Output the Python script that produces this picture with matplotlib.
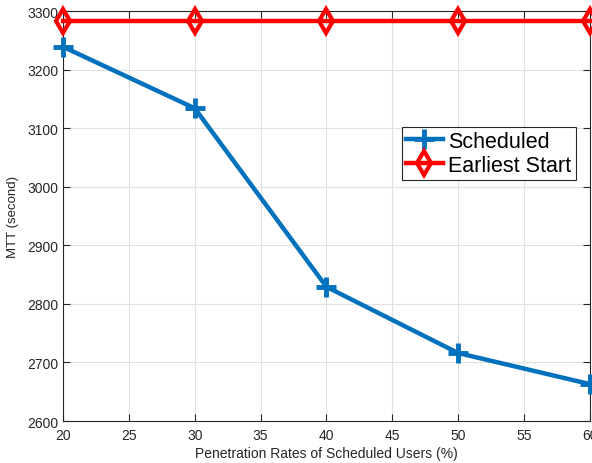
import matplotlib
matplotlib.use("Agg")
import matplotlib.pyplot as plt

plt.rcParams['font.family'] = ['Liberation Sans', 'DejaVu Sans']

rates = [20, 30, 40, 50, 60]
scheduled = [3239, 3134, 2829, 2716, 2663]
earliest = [3283, 3283, 3283, 3283, 3283]

fig = plt.figure(figsize=(5.92, 4.64), dpi=100)
ax = fig.add_axes([0.1064, 0.0905, 0.8902, 0.8835])

ax.plot(rates, scheduled, color='#0072BD', lw=3.2, marker='+', ms=14, mew=3.5,
        label='Scheduled', clip_on=False, zorder=3)
ax.plot(rates, earliest, color='#FF0000', lw=3.2, marker='d', ms=12.5, mew=3,
        mfc='none', label='Earliest Start', clip_on=False, zorder=3)

ax.set_xlim(20, 60)
ax.set_ylim(2600, 3300)
ax.set_xticks(range(20, 61, 5))
ax.set_yticks(range(2600, 3301, 100))
ax.grid(True, color='#e0e0e0', lw=0.8)
ax.set_axisbelow(True)
ax.tick_params(direction='in', top=True, right=True, labelsize=10, length=5,
               color='#262626', labelcolor='#262626')
ax.tick_params(axis='x', pad=5)
for s in ax.spines.values():
    s.set_color('#262626')
    s.set_linewidth(0.8)

ax.set_xlabel('Penetration Rates of Scheduled Users (%)', fontsize=10, color='#262626', labelpad=3)
ax.set_ylabel('MTT (second)', fontsize=9.5, color='#262626', labelpad=6)

leg = ax.legend(loc='upper left', bbox_to_anchor=(0.643, 0.718), fontsize=15.5,
                fancybox=False, framealpha=1, edgecolor='#262626',
                handlelength=1.7, handletextpad=0.25, borderpad=0.2,
                labelspacing=0.12, borderaxespad=0)
leg.get_frame().set_linewidth(0.8)

fig.savefig('out.png', dpi=100)
